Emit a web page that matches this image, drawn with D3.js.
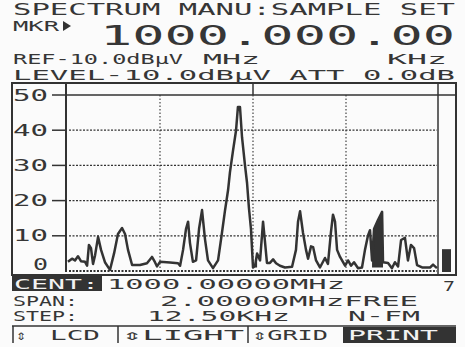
<!DOCTYPE html>
<html>
<head>
<meta charset="utf-8">
<script src="https://cdn.jsdelivr.net/npm/d3@7"></script>
<style>
  html, body { margin: 0; padding: 0; background: #fbfbfb; }
  svg { display: block; }
  text { font-family: "DejaVu Sans Mono", "Liberation Mono", monospace; fill: #363636; }
</style>
</head>
<body>
<div id="chart"></div>
<script>
// frequency offset from centre (kHz) and level (dBuV above ref)
const traceFreq = [-995, -973, -957, -941, -925, -903, -892, -882, -871, -860, -849, -833, -817, -796, -769, -747, -726, -704, -688, -672,
  -650, -608, -570, -543, -527, -516, -500, -446, -403, -392, -376, -360, -349, -339, -323, -306, -290, -274, -258, -242,
  -215, -188, -167, -151, -134, -124, -108, -91, -81, -70, -59, -43, -32, -22, -11, 0, 11, 22, 38, 54,
  65, 75, 91, 108, 124, 145, 172, 210, 231, 242, 253, 269, 285, 296, 312, 323, 339, 360, 387, 403,
  419, 430, 441, 452, 468, 495, 511, 527, 543, 565, 586, 602, 618, 629, 640, 651, 672, 694, 699, 726,
  747, 763, 780, 796, 817, 833, 849, 866, 882, 909, 952, 968, 989];
const traceLevel = [2.6, 3.5, 3.0, 4.2, 2.8, 2.6, 1.5, 7.4, 6.5, 2.0, 4.5, 9.7, 6.0, 2.5, 0.3, 5.0, 10.5, 12.2, 10.5, 6.0,
  1.7, 1.7, 2.2, 4.0, 2.5, 1.3, 2.6, 2.4, 2.2, 1.5, 6.0, 12.0, 14.0, 8.0, 2.6, 3.0, 12.0, 17.3, 9.0, 3.0,
  0.8, 3.0, 10.8, 17.0, 23.0, 28.0, 34.0, 40.0, 46.6, 46.6, 38.0, 30.0, 25.0, 18.0, 12.0, 1.0, 1.5, 5.0, 3.0, 14.0,
  8.0, 2.3, 2.3, 3.3, 2.2, 1.5, 1.0, 1.2, 6.0, 14.0, 17.0, 10.8, 6.0, 3.5, 7.0, 6.8, 3.0, 1.0, 3.7, 2.0,
  11.0, 16.0, 14.0, 6.0, 4.0, 1.5, 3.0, 1.5, 2.5, 0.8, 1.0, 6.0, 10.0, 11.6, 3.0, 12.0, 14.5, 16.8, 2.5, 2.3,
  0.8, 2.5, 1.3, 8.8, 9.4, 3.0, 7.4, 6.5, 1.7, 1.0, 1.0, 1.8, 0.8];
// ranges of the trace that show as solid (overlapping sweeps)
const shadeBands = [[640, 699], [0, 22]];
const yTicks = [0, 10, 20, 30, 40, 50];
const xGrid = [-500, 0, 500];
const meterLevel = 6.2;
const meterLabel = "7";

const width = 465, height = 347;
const dark = "#333";
const fs = 14.5;

const svg = d3.select("#chart").append("svg")
  .attr("width", width).attr("height", height);

const x = d3.scaleLinear().domain([-1000, 1000]).range([67, 439]);
const y = d3.scaleLinear().domain([0, 50]).range([271, 95]);

const trace = traceFreq.map((f, i) => ({ f: f, v: traceLevel[i] }));

// text helper: stretched LCD-like lettering
function lcd(str, x0, base, size, len, color) {
  const t = svg.append("text")
    .attr("x", x0).attr("y", base)
    .style("font-size", size + "px")
    .text(str);
  if (len) t.attr("textLength", len).attr("lengthAdjust", "spacingAndGlyphs");
  if (color) t.style("fill", color);
  return t;
}

// header
lcd("SPECTRUM MANU:SAMPLE SET", 13, 15, 16.5, 442);
lcd("MKR", 13, 31, 14.5, 46);
svg.append("path").attr("d", "M63,21 L71,26 L63,31 Z").attr("fill", dark);
lcd("1000.000.00", 100, 45, 27, 355);
lcd("REF-10.0dBμV", 13, 64, fs, 170);
lcd("MHz", 203, 64, fs, 57);
lcd("KHz", 387, 64, fs, 60);
lcd("LEVEL-10.0dBμV ATT 0.0dB", 13, 80, fs, 442);

// screen frame
const g = svg.append("g").attr("stroke", dark).attr("fill", "none");
g.append("rect").attr("x", 12).attr("y", 83).attr("width", 444).attr("height", 192).attr("stroke-width", 2);
g.append("line").attr("x1", x.range()[0] - 1).attr("x2", x.range()[0] - 1).attr("y1", 83).attr("y2", 272).attr("stroke-width", 2);
g.append("line").attr("x1", 438).attr("x2", 438).attr("y1", 83).attr("y2", 275).attr("stroke-width", 1.5);
g.append("line").attr("x1", x(0)).attr("x2", x(0)).attr("y1", 83).attr("y2", y(50)).attr("stroke-width", 1.5);

// horizontal grid: solid at top, dotted elsewhere
g.selectAll(".hgrid").data(yTicks).enter().append("line")
  .attr("x1", d => d === 50 ? x.range()[0] : x.range()[0] + 2)
  .attr("x2", d => d === 50 ? 456 : 437)
  .attr("y1", d => y(d)).attr("y2", d => y(d))
  .attr("stroke-width", d => d === 50 ? 1.6 : (d === 0 ? 1.8 : 1.2))
  .attr("stroke-dasharray", d => d === 50 ? null : "2,1.5");

// vertical grid
g.selectAll(".vgrid").data(xGrid).enter().append("line")
  .attr("x1", d => x(d)).attr("x2", d => x(d))
  .attr("y1", y(50)).attr("y2", y(0))
  .attr("stroke-width", 1.1)
  .attr("stroke-dasharray", "1.5,2");

// y axis ticks and labels
g.selectAll(".tick").data(yTicks.filter(d => d > 0)).enter().append("line")
  .attr("x1", 52).attr("x2", x.range()[0]).attr("y1", d => y(d)).attr("y2", d => y(d))
  .attr("stroke-width", 1.5);
svg.selectAll(".ylab").data(yTicks).enter().append("text")
  .attr("x", d => d === 0 ? 33 : 13)
  .attr("y", d => d === 0 ? y(d) - 1 : y(d) + 5.5)
  .attr("textLength", d => d === 0 ? 15 : 35)
  .attr("lengthAdjust", "spacingAndGlyphs")
  .style("font-size", "15px")
  .text(d => d);

// solid parts of the trace
shadeBands.forEach(b => {
  const seg = trace.filter(d => d.f >= b[0] && d.f <= b[1]);
  svg.append("path")
    .datum(seg)
    .attr("fill", dark)
    .attr("d", d3.area().x(d => x(d.f)).y0(y(1)).y1(d => y(d.v)));
});

// spectrum trace
svg.append("path")
  .datum(trace)
  .attr("fill", "none")
  .attr("stroke", dark)
  .attr("stroke-width", 2.5)
  .attr("stroke-linejoin", "round")
  .attr("d", d3.line().x(d => x(d.f)).y(d => y(d.v)));

// level meter on the right
svg.append("rect")
  .attr("x", 442).attr("width", 9)
  .attr("y", y(meterLevel)).attr("height", y(0) - y(meterLevel) + 1)
  .attr("fill", dark);

// bottom status lines
svg.append("rect").attr("x", 12).attr("y", 276).attr("width", 90).attr("height", 15).attr("fill", dark);
lcd("CENT:", 14, 289, fs, 85, "#f2f2f2");
lcd("1000.00000MHz", 107, 289, fs, 238);
lcd(meterLabel, 443, 291, fs, 12);
lcd("SPAN:", 13, 306, fs, 65);
lcd("2.00000MHzFREE", 160, 306, fs, 258);
lcd("STEP:", 13, 321, fs, 65);
lcd("12.50KHz", 147, 321, fs, 143);
lcd("N-FM", 348, 321, fs, 72);

// soft-key row
const k = svg.append("g").attr("stroke", dark).attr("stroke-width", 1.5);
k.append("line").attr("x1", 12).attr("x2", 456).attr("y1", 326).attr("y2", 326);
[13, 118, 248].forEach(xx => k.append("line").attr("x1", xx).attr("x2", xx).attr("y1", 326).attr("y2", 343));
lcd("⇕", 16, 340, 14, 10);
lcd("LCD", 50, 340, fs, 50);
lcd("⇕LIGHT", 122, 340, fs, 122);
lcd("⇕GRID", 252, 340, fs, 76);
svg.append("rect").attr("x", 343).attr("y", 327).attr("width", 113).attr("height", 16).attr("fill", dark);
lcd("PRINT", 348, 340, fs, 90, "#f2f2f2");
</script>
</body>
</html>
